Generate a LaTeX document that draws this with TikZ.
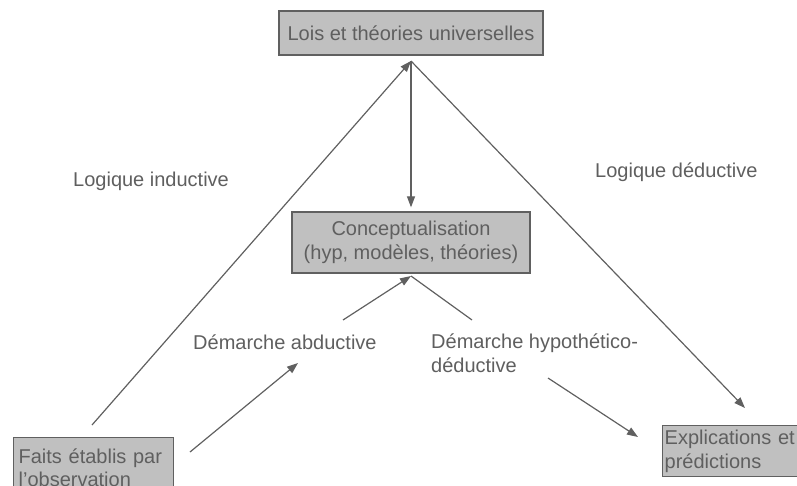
\documentclass[tikz,border=0pt]{standalone}
\usepackage{fontspec}
\setmainfont{Liberation Sans}
\usetikzlibrary{arrows.meta}
\definecolor{boxgray}{HTML}{C0C0C0}
\definecolor{linegray}{HTML}{606060}
\definecolor{textgray}{HTML}{5F5F5F}
\begin{document}
\begin{tikzpicture}[x=1pt, y=-1pt,
    every node/.style={text=textgray, font=\fontsize{20}{23.5}\selectfont, inner sep=0pt},
    box/.style={draw=linegray, fill=boxgray, line width=1.3pt},
    label/.style={anchor=base west, align=left},
    link/.style={draw=linegray, line width=1.2pt},
    arrow/.style={link, -{Triangle[length=11pt,width=8pt]}}]
        \useasboundingbox (0,0) rectangle (797,485);
        \clip (0,0) rectangle (797,485);

        % Boxes
        \node[box, minimum width=264pt, minimum height=44pt] (lois) at (411,33) {Lois et théories universelles};
        \node[box, minimum width=238pt, minimum height=61pt, align=center] (concept) at (411,242.5) {Conceptualisation\\(hyp, modèles, théories)};
        \node[box, anchor=north west, minimum width=160pt, minimum height=60pt, text width=150pt, align=left,
              inner xsep=5pt, inner ysep=3pt] (faits) at (13,437) {Faits établis par\\l’observation};
        \node[box, anchor=north west, minimum width=160pt, minimum height=51pt, text width=156pt, align=left,
              inner xsep=2pt, inner ysep=0pt] (explic) at (662,425) {Explications et\\prédictions};

        % Labels
        \node[label] (induc) at (73,186) {Logique inductive};
        \node[label] (deduc) at (595,177) {Logique déductive};
        \node[label] (abduc) at (193,349) {Démarche abductive};
        \node[label] (hypded) at (431,372) {Démarche hypothético-\\déductive};

        % Line ends
        \coordinate (apex) at (411,61);
        \coordinate (base) at (411,276);
        \coordinate (indstart) at (92,425);
        \coordinate (dedend) at (745,408);
        \coordinate (baseleft) at (343,320);
        \coordinate (baseright) at (472,320);
        \coordinate (abdstart) at (190,452);
        \coordinate (abdend) at (298,363);
        \coordinate (hypstart) at (548,378);
        \coordinate (hypend) at (638,437);

        \draw[arrow] (indstart) -- (apex);
        \draw[arrow] (apex) -- (dedend);
        \draw[arrow, shorten >=4pt] (apex) -- (concept.north);

        \draw[arrow] (baseleft) -- (base);
        \draw[link] (base) -- (baseright);

        \draw[arrow] (abdstart) -- (abdend);
        \draw[arrow] (hypstart) -- (hypend);
    \end{tikzpicture}
\end{document}
